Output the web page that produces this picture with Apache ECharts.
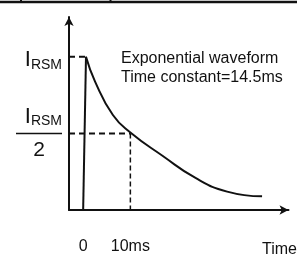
<!DOCTYPE html>
<html>
<head>
<meta charset="utf-8">
<script src="https://cdn.jsdelivr.net/npm/echarts@6/dist/echarts.min.js"></script>
<style>
  html, body { margin: 0; padding: 0; background: #fff; }
  #chart { width: 297px; height: 255px; }
</style>
</head>
<body>
<div id="chart"></div>
<script>
// time in ms, current relative to I_RSM
var riseT = [0, 0.6];
var riseI = [0, 1];
var decayT = [0.6, 2.5, 6.3, 10, 16.8, 23.8, 30.5, 37.9];
var decayI = [1.0, 0.84, 0.62, 0.506, 0.354, 0.209, 0.120, 0.089];
var peakI = 1;
var halfI = 0.5;
var halfT = 10;
var xTicks = [0, 10];
var yTicks = [0.5, 1];
var noteLines = ['Exponential waveform', 'Time constant=14.5ms'];

var font = '"Liberation Sans", Arial, sans-serif';
var ink = '#111';

function pairs(xs, ys) {
  return xs.map(function (x, i) { return [x, ys[i]]; });
}

var chart = echarts.init(document.getElementById('chart'));
chart.setOption({
  animation: false,
  grid: { left: 69, right: 8.5, top: 17, bottom: 39 },
  xAxis: {
    type: 'value', min: -3, max: 43.5,
    splitLine: { show: false },
    axisTick: { show: false },
    axisLine: { lineStyle: { color: ink, width: 2 }, symbol: ['none', 'arrow'], symbolSize: [7, 9] },
    axisLabel: {
      customValues: xTicks, margin: 29, color: ink, fontFamily: font, fontSize: 16,
      formatter: function (v) { return v === 0 ? '0' : v + 'ms'; }
    }
  },
  yAxis: {
    type: 'value', min: 0, max: 1.26,
    splitLine: { show: false },
    axisTick: { show: false },
    axisLine: { onZero: false, lineStyle: { color: ink, width: 2 }, symbol: ['none', 'arrow'], symbolSize: [7, 9] },
    axisLabel: {
      customValues: yTicks, margin: 7, color: ink, fontFamily: font,
      formatter: function (v) {
        if (v === peakI) return '{gap|}\n{i|I}{s|RSM}';
        return '{i|I}{s|RSM}\n{bar|}\n{two|2}';
      },
      rich: {
        gap: { height: 7 },
        i: { fontSize: 22, fontFamily: font, color: ink, lineHeight: 23 },
        s: { fontSize: 14, fontFamily: font, color: ink, lineHeight: 23, verticalAlign: 'bottom' },
        bar: { width: 46, height: 1.5, backgroundColor: ink, lineHeight: 10 },
        two: { fontSize: 21, fontFamily: font, color: ink, width: 46, align: 'center', lineHeight: 23 }
      }
    }
  },
  graphic: [
    { type: 'line', shape: { x1: 0, y1: 2, x2: 297, y2: 2 }, style: { stroke: ink, lineWidth: 2.5 } },
    { type: 'line', shape: { x1: 21, y1: 0, x2: 21, y2: 3 }, style: { stroke: ink, lineWidth: 2 } },
    { type: 'line', shape: { x1: 110.5, y1: 0, x2: 110.5, y2: 3 }, style: { stroke: ink, lineWidth: 2 } },
    { type: 'text', left: 121, top: 49, style: { text: noteLines.join('\n'), font: '16px ' + font, fill: ink, lineHeight: 19 } },
    { type: 'text', left: 262, top: 242, style: { text: 'Time', font: '16px ' + font, fill: ink } }
  ],
  series: [
    {
      type: 'line', data: pairs(riseT, riseI), symbol: 'none',
      lineStyle: { color: ink, width: 2 }
    },
    {
      type: 'line', data: pairs(decayT, decayI), symbol: 'none', smooth: 0.5,
      lineStyle: { color: ink, width: 2 }
    },
    {
      type: 'line', data: [[-3, peakI], [riseT[1], peakI]], symbol: 'none',
      lineStyle: { color: ink, width: 2, type: [6, 4] }
    },
    {
      type: 'line', data: [[-3, halfI], [halfT, halfI]], symbol: 'none',
      lineStyle: { color: ink, width: 2, type: [6, 4] }
    },
    {
      type: 'line', data: [[halfT, halfI], [halfT, 0]], symbol: 'none',
      lineStyle: { color: ink, width: 1.5, type: [5, 3] }
    }
  ]
});
</script>
</body>
</html>
